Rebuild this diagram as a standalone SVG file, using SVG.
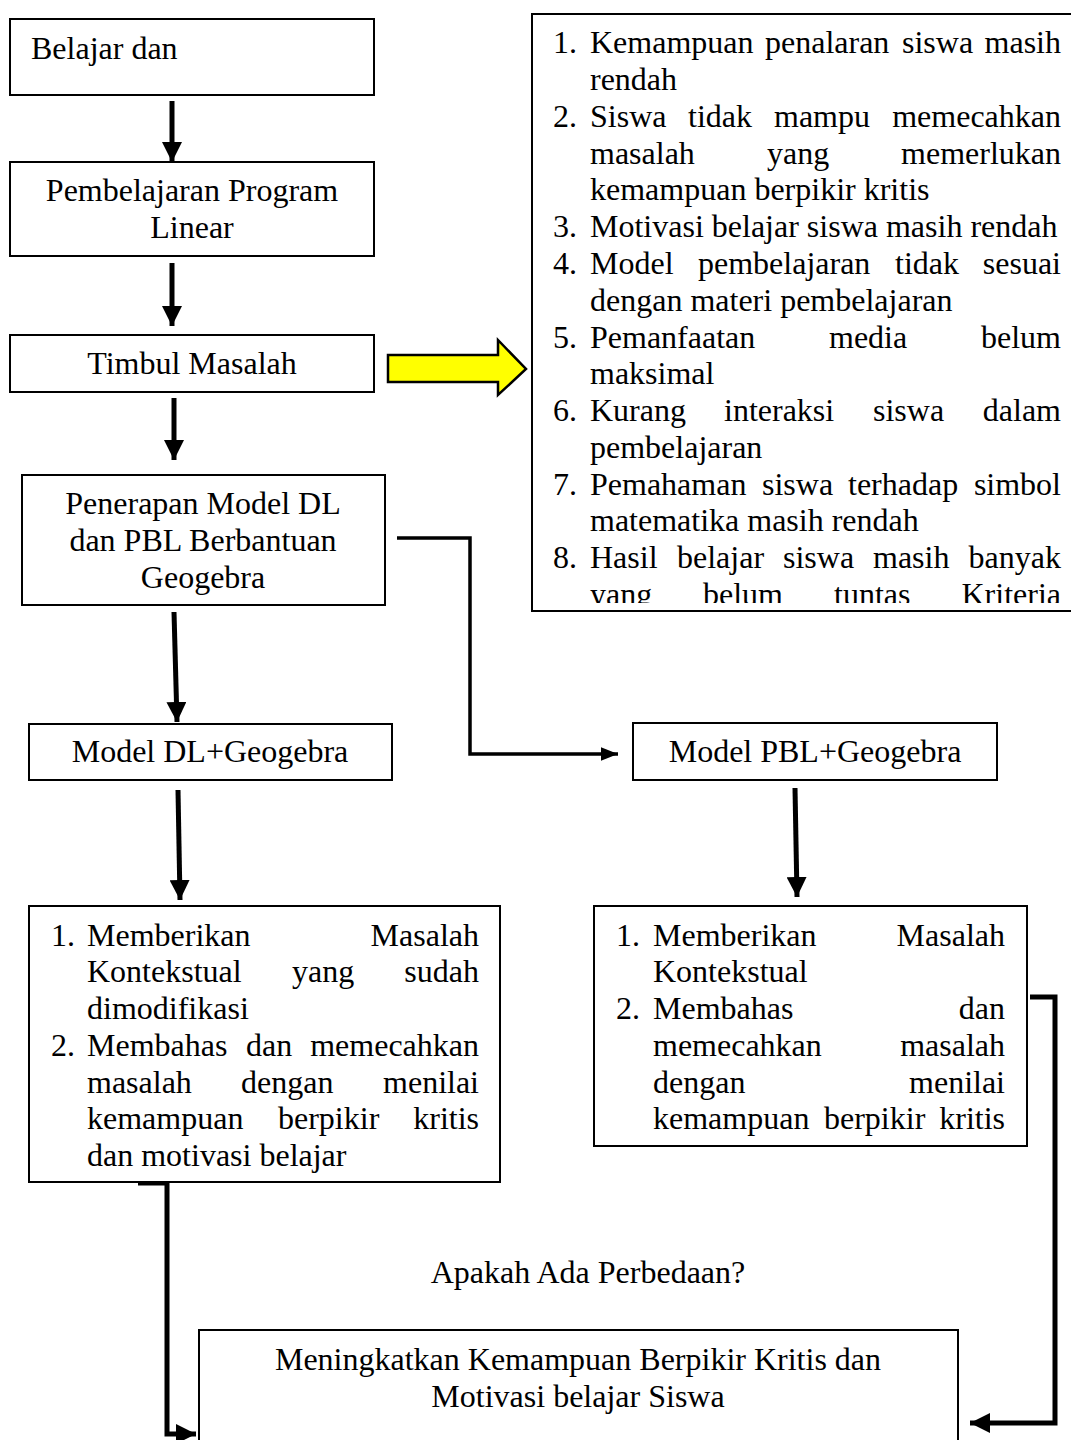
<svg xmlns="http://www.w3.org/2000/svg" width="1071" height="1440" viewBox="0 0 1071 1440">
<defs>
<style>
.box{fill:#fff;stroke:#000;stroke-width:2}
text{font-family:"Liberation Serif","Times New Roman",serif;font-size:32px;fill:#000}
.c{text-anchor:middle}
.e{text-anchor:end}
.thick{fill:none;stroke:#000;stroke-width:5}
.thin{fill:none;stroke:#000;stroke-width:3.5}
</style>
<marker id="ah" markerWidth="4" markerHeight="4" refX="4" refY="2" orient="auto" markerUnits="strokeWidth"><path d="M0,0 L4,2 L0,4 Z" fill="#000"/></marker>
<marker id="ah2" markerWidth="5" markerHeight="4" refX="5" refY="2" orient="auto" markerUnits="strokeWidth"><path d="M0,0 L5,2 L0,4 Z" fill="#000"/></marker>
<clipPath id="clipR"><rect x="533" y="15" width="540" height="588"/></clipPath>
</defs>

<g id="connectors">
<path class="thick" d="M172,101 V162" marker-end="url(#ah)"/>
<path class="thick" d="M172,263 V326" marker-end="url(#ah)"/>
<path class="thick" d="M174,398 V460" marker-end="url(#ah)"/>
<path class="thick" d="M174,612 L177,722" marker-end="url(#ah)"/>
<path class="thick" d="M178,790 L180,900" marker-end="url(#ah)"/>
<path class="thick" d="M795,788 L797,897" marker-end="url(#ah)"/>
<path class="thin" d="M397,538 H470 V754 H618" marker-end="url(#ah2)"/>
<path class="thick" d="M138,1183 H167 V1434 H196" marker-end="url(#ah)"/>
<path class="thick" d="M1030,997 H1055 V1423 H970" marker-end="url(#ah)"/>
<path d="M388,355 H498 V340 L526,369 L498,395 V382 H388 Z" fill="#ffff00" stroke="#000" stroke-width="2.5" stroke-linejoin="miter"/>
</g>

<g id="node-belajar">
<rect class="box" x="10" y="19" width="364" height="76"/>
<text x="31" y="59">Belajar dan</text>
</g>

<g id="node-pembelajaran">
<rect class="box" x="10" y="162" width="364" height="94"/>
<text class="c" x="192" y="201">Pembelajaran Program</text>
<text class="c" x="192" y="238">Linear</text>
</g>

<g id="node-timbul">
<rect class="box" x="10" y="335" width="364" height="57"/>
<text class="c" x="192" y="374">Timbul Masalah</text>
</g>

<g id="node-masalah-list">
<rect class="box" x="532" y="14" width="560" height="597"/>
<g clip-path="url(#clipR)">
<text x="553" y="53">1.</text><text x="590" y="53">Kemampuan</text><text x="765" y="53">penalaran</text><text x="902" y="53">siswa</text><text class="e" x="1061" y="53">masih</text>
<text x="590" y="90">rendah</text>
<text x="553" y="127">2.</text><text x="590" y="127">Siswa</text><text x="688" y="127">tidak</text><text x="774" y="127">mampu</text><text class="e" x="1061" y="127">memecahkan</text>
<text x="590" y="164">masalah</text><text x="767" y="164">yang</text><text class="e" x="1061" y="164">memerlukan</text>
<text x="590" y="200">kemampuan berpikir kritis</text>
<text x="553" y="237">3.</text><text x="590" y="237">Motivasi belajar siswa masih rendah</text>
<text x="553" y="274">4.</text><text x="590" y="274">Model</text><text x="698" y="274">pembelajaran</text><text x="895" y="274">tidak</text><text class="e" x="1061" y="274">sesuai</text>
<text x="590" y="311">dengan materi pembelajaran</text>
<text x="553" y="348">5.</text><text x="590" y="348">Pemanfaatan</text><text x="829" y="348">media</text><text class="e" x="1061" y="348">belum</text>
<text x="590" y="384">maksimal</text>
<text x="553" y="421">6.</text><text x="590" y="421">Kurang</text><text x="724" y="421">interaksi</text><text x="873" y="421">siswa</text><text class="e" x="1061" y="421">dalam</text>
<text x="590" y="458">pembelajaran</text>
<text x="553" y="495">7.</text><text x="590" y="495">Pemahaman</text><text x="762" y="495">siswa</text><text x="848" y="495">terhadap</text><text class="e" x="1061" y="495">simbol</text>
<text x="590" y="531">matematika masih rendah</text>
<text x="553" y="568">8.</text><text x="590" y="568">Hasil</text><text x="677" y="568">belajar</text><text x="783" y="568">siswa</text><text x="873" y="568">masih</text><text class="e" x="1061" y="568">banyak</text>
<text x="590" y="605">yang</text><text x="703" y="605">belum</text><text x="834" y="605">tuntas</text><text class="e" x="1061" y="605">Kriteria</text>
</g>
</g>

<g id="node-penerapan">
<rect class="box" x="22" y="475" width="363" height="130"/>
<text class="c" x="203" y="514">Penerapan Model DL</text>
<text class="c" x="203" y="551">dan PBL Berbantuan</text>
<text class="c" x="203" y="588">Geogebra</text>
</g>

<g id="node-dl">
<rect class="box" x="29" y="724" width="363" height="56"/>
<text class="c" x="210" y="762">Model DL+Geogebra</text>
</g>

<g id="node-pbl">
<rect class="box" x="633" y="723" width="364" height="57"/>
<text class="c" x="815" y="762">Model PBL+Geogebra</text>
</g>

<g id="node-dl-steps">
<rect class="box" x="29" y="906" width="471" height="276"/>
<text x="51" y="946">1.</text><text x="87" y="946">Memberikan</text><text class="e" x="479" y="946">Masalah</text>
<text x="87" y="982">Kontekstual</text><text x="292" y="982">yang</text><text class="e" x="479" y="982">sudah</text>
<text x="87" y="1019">dimodifikasi</text>
<text x="51" y="1056">2.</text><text x="87" y="1056">Membahas</text><text x="246" y="1056">dan</text><text class="e" x="479" y="1056">memecahkan</text>
<text x="87" y="1093">masalah</text><text x="241" y="1093">dengan</text><text class="e" x="479" y="1093">menilai</text>
<text x="87" y="1129">kemampuan</text><text x="278" y="1129">berpikir</text><text class="e" x="479" y="1129">kritis</text>
<text x="87" y="1166">dan motivasi belajar</text>
</g>

<g id="node-pbl-steps">
<rect class="box" x="594" y="906" width="433" height="240"/>
<text x="616" y="946">1.</text><text x="653" y="946">Memberikan</text><text class="e" x="1005" y="946">Masalah</text>
<text x="653" y="982">Kontekstual</text>
<text x="616" y="1019">2.</text><text x="653" y="1019">Membahas</text><text class="e" x="1005" y="1019">dan</text>
<text x="653" y="1056">memecahkan</text><text class="e" x="1005" y="1056">masalah</text>
<text x="653" y="1093">dengan</text><text class="e" x="1005" y="1093">menilai</text>
<text x="653" y="1129">kemampuan</text><text x="824" y="1129">berpikir</text><text class="e" x="1005" y="1129">kritis</text>
</g>

<g id="label-perbedaan">
<text class="c" x="588" y="1283">Apakah Ada Perbedaan?</text>
</g>

<g id="node-hasil">
<rect class="box" x="199" y="1330" width="759" height="130"/>
<text class="c" x="578" y="1370">Meningkatkan Kemampuan Berpikir Kritis dan</text>
<text class="c" x="578" y="1407">Motivasi belajar Siswa</text>
</g>
</svg>
